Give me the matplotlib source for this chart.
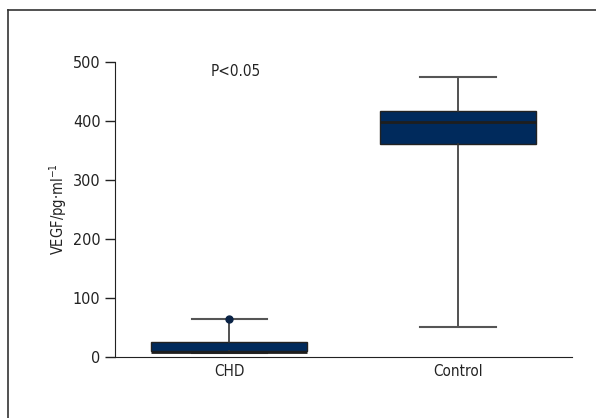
import matplotlib
matplotlib.use('Agg')
import matplotlib.pyplot as plt
from matplotlib.lines import Line2D

plt.rcParams['font.family'] = ['DejaVu Sans']
plt.rcParams['font.stretch'] = 'condensed'

groups = ['CHD', 'Control']
whislo = [7, 51]
q1 = [10, 361]
med = [9, 398]
q3 = [26, 417]
whishi = [65, 475]
fliers = [[65], []]

stats = []
for i in range(len(groups)):
    stats.append(dict(label=groups[i], whislo=whislo[i], q1=q1[i], med=med[i],
                      q3=q3[i], whishi=whishi[i], fliers=fliers[i]))

fig = plt.figure(figsize=(5.96, 4.18), dpi=100)
ax = fig.add_axes([0.193, 0.146, 0.767, 0.706])

ax.bxp(stats, positions=[1, 2], widths=0.684, capwidths=0.33, patch_artist=True,
       boxprops=dict(facecolor='#002a5c', edgecolor='#222222', linewidth=1),
       medianprops=dict(color='#1e1e1e', linewidth=2),
       whiskerprops=dict(color='#333333', linewidth=1.2),
       capprops=dict(color='#555555', linewidth=1.5),
       flierprops=dict(marker='o', markerfacecolor='#0a2346', markeredgecolor='#0a2346',
                       markersize=5))

ax.set_xlim(0.5, 2.5)
ax.set_ylim(0, 500)
ax.set_yticks([0, 100, 200, 300, 400, 500])
ax.spines['top'].set_visible(False)
ax.spines['right'].set_visible(False)
ax.spines['left'].set_color('#222222')
ax.spines['bottom'].set_color('#222222')
ax.tick_params(axis='y', length=7, width=1, color='#222222', labelsize=11.5, labelcolor='#222222')
ax.tick_params(axis='x', length=0, labelsize=11, labelcolor='#222222', pad=5)
ax.set_ylabel('VEGF/pg·ml$^{-1}$', fontsize=10.5, color='#222222', labelpad=3)

ax.text(1.03, 483, 'P<0.05', ha='center', va='center', fontsize=11, color='#222222')

# outer frame lines (top and left)
fig.add_artist(Line2D([8 / 596, 1], [1 - 10 / 418, 1 - 10 / 418], color='#333333', lw=1.2))
fig.add_artist(Line2D([8 / 596, 8 / 596], [0, 1 - 10 / 418], color='#333333', lw=1.2))

fig.savefig('out.png', dpi=100)
